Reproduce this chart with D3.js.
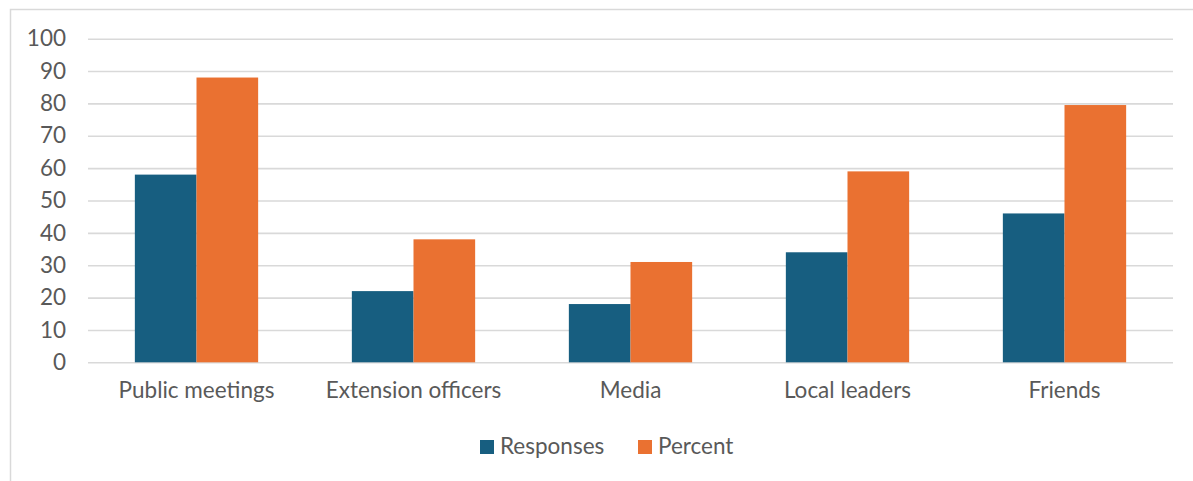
<!DOCTYPE html>
<html>
<head>
<meta charset="utf-8">
<script src="https://cdn.jsdelivr.net/npm/d3@7"></script>
<style>
  body { margin: 0; background: #fff; }
</style>
</head>
<body>
<div id="chart"></div>
<script>
const categories = ['Public meetings', 'Extension officers', 'Media', 'Local leaders', 'Friends']
const seriesNames = ['Responses', 'Percent']
const responses = [58, 22, 18, 34, 46]
const percent = [88, 38, 31, 59, 79.5]
const yTicks = [0, 10, 20, 30, 40, 50, 60, 70, 80, 90, 100]

const WIDTH = 1193
const HEIGHT = 481
const COLORS = ['#175e80', '#ea7131']
const TEXT_COLOR = '#595959'
const GRID_COLOR = '#d9d9d9'
const FONT = 'Lato, "Open Sans", sans-serif'
const FONT_SIZE = '22.5px'

const margin = { top: 38.7, left: 88 }
const plotRight = 1173
const plotBottom = 362.3

const svg = d3.select('#chart')
    .append('svg')
    .attr('width', WIDTH)
    .attr('height', HEIGHT)

// outer chart border
svg.append('rect')
    .attr('x', 10.5)
    .attr('y', 9.5)
    .attr('width', WIDTH)
    .attr('height', HEIGHT)
    .attr('fill', 'none')
    .attr('stroke', GRID_COLOR)
    .attr('stroke-width', 1.5)

const x = d3.scaleBand()
    .domain(categories)
    .range([margin.left, plotRight])

const xInner = d3.scaleBand()
    .domain(seriesNames)
    .range([0, x.bandwidth()])
    .paddingInner(0)
    .paddingOuter(0.76)

const y = d3.scaleLinear()
    .domain([0, 100])
    .range([plotBottom, margin.top])

/**
 * Gridlines + y labels
 */
const yAxis = d3.axisLeft(y)
    .tickValues(yTicks)
    .tickSize(-(plotRight - margin.left))
    .tickPadding(22)

const yG = svg.append('g')
    .attr('transform', `translate(${margin.left}, 0)`)
    .call(yAxis)

yG.select('.domain').remove()
yG.selectAll('.tick line')
    .attr('stroke', GRID_COLOR)
    .attr('stroke-width', 1.6)
yG.selectAll('.tick text')
    .attr('fill', TEXT_COLOR)
    .attr('font-family', FONT)
    .attr('font-size', FONT_SIZE)

/**
 * Bars
 */
const rows = categories.map((c, i) => ({ cat: c, values: [responses[i], percent[i]] }))

const groups = svg.append('g')
    .selectAll('g')
    .data(rows)
    .enter()
    .append('g')
    .attr('transform', d => `translate(${x(d.cat)}, 0)`)

groups.selectAll('rect')
    .data(d => d.values.map((v, i) => ({ name: seriesNames[i], value: v, color: COLORS[i] })))
    .enter()
    .append('rect')
    .attr('x', d => xInner(d.name))
    .attr('width', xInner.bandwidth())
    .attr('y', d => y(d.value))
    .attr('height', d => y(0) - y(d.value))
    .attr('fill', d => d.color)

/**
 * x labels
 */
const xAxis = d3.axisBottom(x).tickSize(0).tickPadding(20)
const xG = svg.append('g')
    .attr('transform', `translate(0, ${plotBottom})`)
    .call(xAxis)
xG.select('.domain').remove()
xG.selectAll('.tick text')
    .attr('fill', TEXT_COLOR)
    .attr('font-family', FONT)
    .attr('font-size', FONT_SIZE)

/**
 * Legend
 */
const legendPos = [480, 638]
const legend = svg.append('g')
    .selectAll('g')
    .data(seriesNames)
    .enter()
    .append('g')
    .attr('transform', (d, i) => `translate(${legendPos[i]}, 440)`)

legend.append('rect')
    .attr('width', 14)
    .attr('height', 14)
    .attr('fill', (d, i) => COLORS[i])

legend.append('text')
    .attr('x', 20)
    .attr('y', 14)
    .attr('fill', TEXT_COLOR)
    .attr('font-family', FONT)
    .attr('font-size', FONT_SIZE)
    .text(d => d)
</script>
</body>
</html>
